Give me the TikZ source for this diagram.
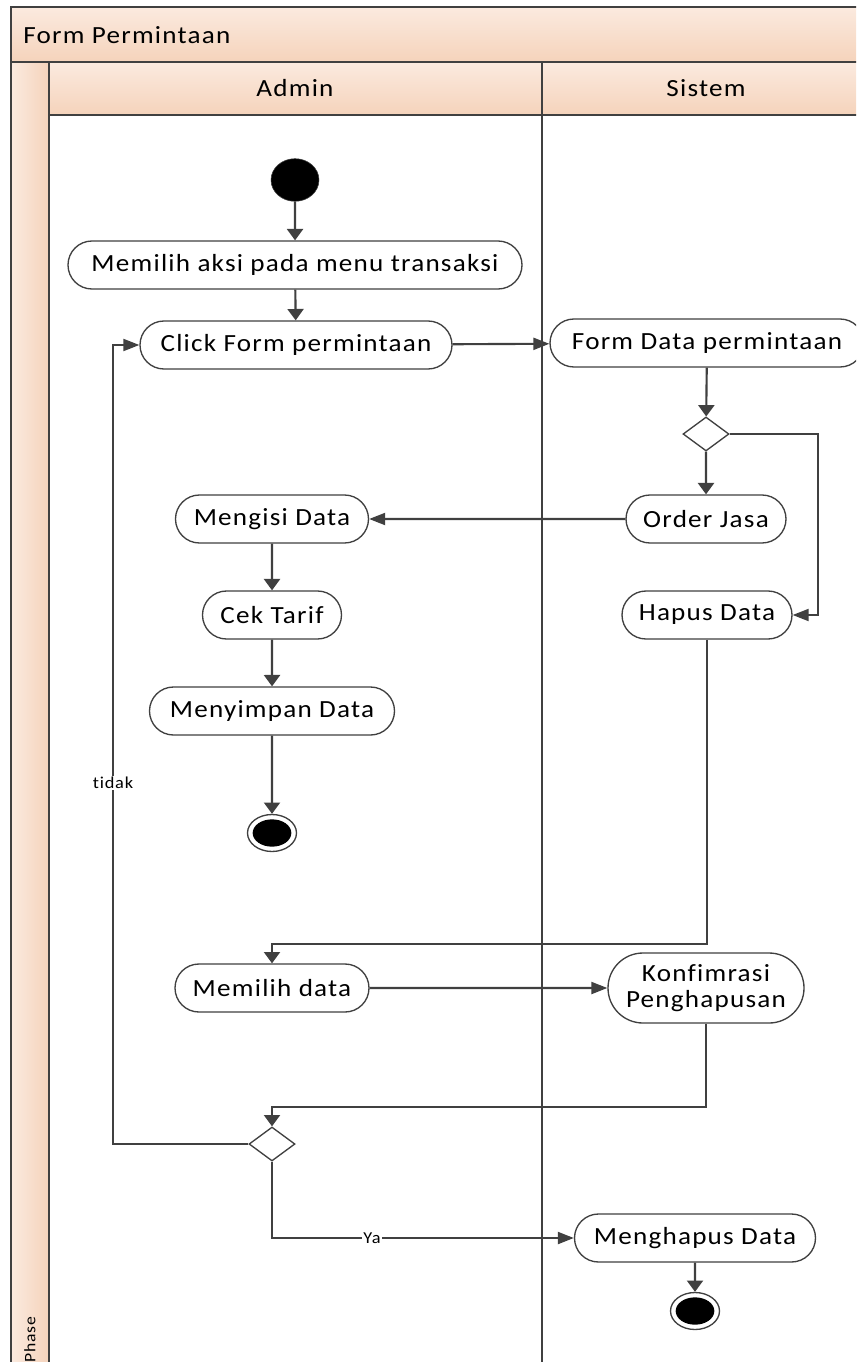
\documentclass[tikz,border=0pt]{standalone}
\usepackage{fontspec}
\setmainfont{Carlito}[LetterSpace=5,FakeStretch=1.1,Ligatures={NoCommon}]
\newfontfamily\labelfont{Carlito}[LetterSpace=5,FakeStretch=1.1,Ligatures={NoCommon}]

\usetikzlibrary{arrows.meta,shapes.geometric,shapes.misc}

\definecolor{ln}{HTML}{404040}
\definecolor{peachL}{HTML}{FBEADF}
\definecolor{peachD}{HTML}{F5D3BB}

\begin{document}
\begin{tikzpicture}[x=0.75pt,y=-0.75pt,
  txt/.style={font=\fontsize{18.5}{20}\selectfont},
  act/.style={txt, draw=ln, line width=1pt, fill=white, rounded rectangle,
    inner sep=0pt, minimum height=36pt, minimum width=#1*0.75pt, align=center},
  dec/.style={draw=ln, line width=1pt, fill=white, diamond, inner sep=0pt,
    minimum width=34.5pt, minimum height=25.5pt},
  initnode/.style={ellipse, fill=black, draw=ln, inner sep=0pt,
    minimum width=36pt, minimum height=32pt},
  finalnode/.style={ellipse, draw=ln, line width=1pt, fill=white, inner sep=0pt,
    minimum width=36.75pt, minimum height=27.75pt,
    path picture={\fill[black] (path picture bounding box.center)
      ellipse [x radius=14.5pt, y radius=10.25pt];}},
  flow/.style={draw=ln, line width=1.6pt},
  varr/.style={flow, -{Triangle[length=8.5pt,width=12pt]}},
  harr/.style={flow, -{Triangle[length=12pt,width=9pt]}},
  lbl/.style={fill=white, inner sep=1pt, font=\labelfont\fontsize{12.5}{14}\selectfont},
  frame/.style={draw=ln, line width=1.5pt}
]
\useasboundingbox (0,0) rectangle (856,1362);
\clip (0,0) rectangle (856,1362);

% swimlane backgrounds
\fill[white] (0,0) rectangle (856,1362);
\shade[top color=peachL, bottom color=peachD] (11,7) rectangle (870,62);
\shade[top color=peachL, bottom color=peachD] (49,62) rectangle (870,115);
\shade[left color=peachL, right color=peachD] (11,62) rectangle (49,1400);

% swimlane frame
\draw[frame] (11,1400) -- (11,7) -- (870,7) -- (870,1400);
\draw[frame] (11,62) -- (870,62);
\draw[frame] (49,62) -- (49,1400);
\draw[frame] (49,115) -- (870,115);
\draw[frame] (542,62) -- (542,1400);

% lane titles
\node[txt, anchor=west, inner sep=0pt] (title) at (23,35) {Form Permintaan};
\node[txt] (laneA) at (295,88) {Admin};
\node[txt] (laneS) at (706,88) {Sistem};
\node[rotate=90, anchor=west, inner sep=0pt,
  font=\labelfont\fontsize{12}{13}\selectfont] (phase) at (30,1363) {Phase};

% activity nodes
\node[initnode] (start) at (295,180) {};
\node[act=454] (aksi) at (295,265) {Memilih aksi pada menu transaksi};
\node[act=312] (click) at (296,345) {Click Form permintaan};
\node[act=314] (formdata) at (707,343) {Form Data permintaan};
\node[dec] (d1) at (706,434) {};
\node[act=160] (order) at (706,519) {Order Jasa};
\node[act=170] (hapus) at (707,615) {Hapus Data};
\node[act=193] (isi) at (272,519) {Mengisi Data};
\node[act=139] (cek) at (272,615) {Cek Tarif};
\node[act=245] (simpan) at (272,711) {Menyimpan Data};
\node[finalnode] (end1) at (272,833) {};
\node[act=194] (pilih) at (272,988) {Memilih data};
\node[act=196, minimum height=52.5pt] (konf) at (706,988) {Konfimrasi\\Penghapusan};
\node[dec] (d2) at (272,1144) {};
\node[act=241] (menghapus) at (695,1238) {Menghapus Data};
\node[finalnode] (end2) at (695,1311) {};

% junction points of the routed connectors
\coordinate (r1) at (818,434);
\coordinate (j1) at (272,944);
\coordinate (j2) at (272,1107);
\coordinate (back) at (113,1144);

% connectors
\draw[varr] (start) -- (aksi);
\draw[varr] (aksi) -- (click);
\draw[harr] (click) -- (formdata);
\draw[varr] (formdata) -- (d1);
\draw[varr] (d1) -- (order);
\draw[harr] (d1.east) -- (r1) |- (hapus.east);
\draw[harr] (order) -- (isi);
\draw[varr] (isi) -- (cek);
\draw[varr] (cek) -- (simpan);
\draw[varr] (simpan) -- (end1);
\draw[varr] (hapus.south) |- (j1) -- (pilih.north);
\draw[harr] (pilih) -- (konf);
\draw[varr] (konf.south) |- (j2) -- (d2.north);
\draw[harr] (d2.west) -- (back) |- (click.west);
\draw[harr] (d2.south) |- (menghapus.west);
\draw[varr] (menghapus) -- (end2);

% guard labels
\node[lbl] (ltidak) at (113,783) {tidak};
\node[lbl] (lya) at (372,1238) {Ya};
\end{tikzpicture}
\end{document}
